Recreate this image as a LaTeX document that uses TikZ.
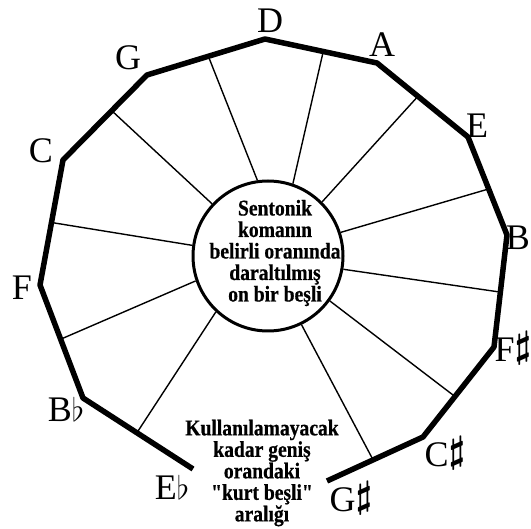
\documentclass[tikz,border=0pt]{standalone}
\usepackage{graphicx}
\usepackage{fontspec}
\setmainfont{Liberation Serif}
\newfontfamily\notefont{Liberation Serif}[FakeStretch=0.87, FakeBold=0.6]
\usetikzlibrary{calc}
\newcommand{\shp}{\raisebox{4pt}{\scalebox{1.5}{\boldmath$\sharp$}}}
\newcommand{\flt}{\raisebox{0pt}{\scalebox{1.3}{$\flat$}}}
\tikzset{
    rim/.style = {
        line width=5.5pt, line join=round
    },
    spoke/.style = {
        line width=1.4pt
    },
    hub/.style = {
        circle, draw, line width=3pt,
        minimum size=150pt, inner sep=0pt
    },
    pitch/.style = {
        anchor=base, inner sep=0pt,
        font=\fontsize{36}{36}\selectfont
    },
    caption/.style = {
        align=center, inner sep=0pt,
        font=\notefont\bfseries\fontsize{22.5}{21.5}\selectfont
    }
}

\begin{document}
\begin{tikzpicture}[x=1pt, y=-1pt]
\useasboundingbox (0,0) rectangle (531,529);

\coordinate (Eb) at (193,469);
\coordinate (Bb) at (83,398);
\coordinate (F) at (40,285);
\coordinate (C) at (63,160);
\coordinate (G) at (147,75);
\coordinate (D) at (265,39);
\coordinate (A) at (377,63);
\coordinate (E) at (468,137);
\coordinate (B) at (507,235);
\coordinate (Fs) at (494,347);
\coordinate (Cs) at (423,437);
\coordinate (Gs) at (327,481);

\node (hub) [hub] at (268,256) {};
\node (inner) [caption] at (275,253) {Sentonik\\komanın\\belirli oranında\\daraltılmış\\on bir beşli};
\node (wolf) [caption] at (262,473) {Kullanılamayacak\\kadar geniş\\orandaki\\"kurt beşli"\\aralığı};

\node (lD) [pitch] at (270,33) {D};
\node (lG) [pitch] at (128,70) {G};
\node (lA) [pitch] at (382,57) {A};
\node (lE) [pitch] at (477,138) {E};
\node (lC) [pitch] at (41,163) {C};
\node (lB) [pitch] at (518,250) {B};
\node (lF) [pitch] at (22,300) {F};
\node (lFs) [pitch] at (513,362) {F\shp};
\node (lBb) [pitch] at (66,422) {B\flt};
\node (lEb) [pitch] at (172,500) {E\flt};
\node (lCs) [pitch] at (445,467) {C\shp};
\node (lGs) [pitch] at (351,512) {G\shp};

\draw [rim] (Eb) -- (Bb) -- (F) -- (C) -- (G) -- (D) -- (A) -- (E) -- (B) -- (Fs) -- (Cs) -- (Gs);

\draw [spoke] ($(G)!0.52!(D)$) -- (hub.98);
\draw [spoke] ($(D)!0.52!(A)$) -- (hub.71);
\draw [spoke] ($(A)!0.45!(E)$) -- (hub.45);
\draw [spoke] ($(E)!0.53!(B)$) -- (hub.18);
\draw [spoke] ($(B)!0.51!(Fs)$) -- (hub.350);
\draw [spoke] ($(Fs)!0.55!(Cs)$) -- (hub.324);
\draw [spoke] ($(Cs)!0.52!(Gs)$) -- (hub.296);
\draw [spoke] ($(Bb)!0.49!(Eb)$) -- (hub.227);
\draw [spoke] ($(F)!0.48!(Bb)$) -- (hub.199);
\draw [spoke] ($(C)!0.5!(F)$) -- (hub.172);
\draw [spoke] ($(C)!0.58!(G)$) -- (hub.137);

\end{tikzpicture}
\end{document}
